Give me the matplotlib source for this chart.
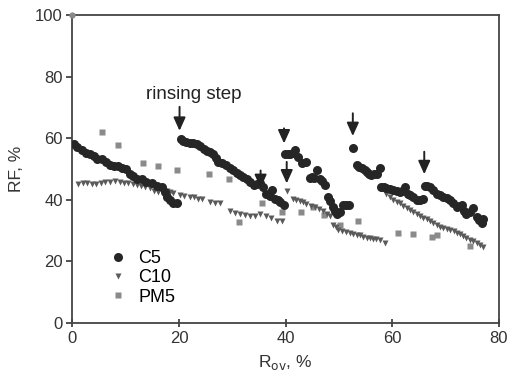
import matplotlib
matplotlib.use("Agg")
import matplotlib.pyplot as plt

plt.rcParams['font.family'] = ['Liberation Sans', 'DejaVu Sans']

# C5 (black circles)
c5_x = [0.3, 0.9, 1.8, 2.6, 3.3, 4.1, 4.7, 5.5, 6.3, 7.1, 7.8, 8.6, 9.3, 10.0, 10.8, 11.4, 12.2, 13.0, 13.9, 14.9, 15.8, 16.8, 17.4, 17.7, 18.3, 18.9, 19.6,
        20.3, 20.8, 21.4, 22.0, 22.7, 23.3, 24.0, 24.6, 25.2, 25.8, 26.4, 27.0, 27.4, 28.0, 28.9, 29.5, 30.2, 30.8, 31.4, 32.0, 32.7, 33.3, 34.0, 34.6, 35.2, 35.8, 36.4, 37.0, 37.4, 38.0, 38.5, 38.9, 39.6,
        39.9, 40.4, 40.8, 41.3, 41.8, 42.3, 43.0, 43.9, 44.5, 44.9, 45.4, 45.8, 46.4, 46.9, 47.4, 48.0, 48.4, 48.9, 49.3, 49.6, 50.2, 50.8, 51.3, 51.8,
        52.7, 53.3, 53.8, 54.3, 54.8, 55.2, 55.7, 56.1, 56.6, 57.1, 57.7,
        57.9, 58.4, 58.9, 59.5, 60.2, 60.8, 61.4, 61.9, 62.4, 62.9, 63.3, 63.9, 64.6, 65.2, 65.8,
        66.1, 66.6, 67.1, 67.7, 68.3, 68.9, 69.6, 70.2, 70.8, 71.4, 72.1, 72.6, 73.0, 73.5, 73.9, 74.5, 75.2, 75.8, 76.3, 76.8, 77.1]
c5_y = [58.0, 57.2, 56.1, 55.3, 55.0, 54.2, 53.4, 53.1, 52.3, 51.2, 51.0, 51.0, 50.2, 50.0, 48.3, 47.8, 46.9, 46.6, 45.8, 45.3, 44.5, 44.0, 42.6, 41.0, 39.9, 39.1, 39.1,
        59.8, 59.2, 58.8, 58.6, 58.6, 58.0, 57.6, 56.6, 56.0, 55.6, 55.0, 53.6, 52.3, 51.8, 51.2, 50.2, 49.6, 48.6, 48.0, 47.5, 46.9, 45.8, 44.7, 45.0, 45.3, 44.2, 42.0, 41.2, 43.3, 40.4, 39.8, 39.3, 38.2,
        55.0, 55.0, 55.0, 55.2, 56.1, 54.0, 51.8, 52.3, 47.2, 47.5, 47.2, 49.6, 46.9, 46.0, 44.7, 41.0, 39.5, 37.7, 36.5, 35.5, 36.0, 38.2, 38.2, 38.2,
        56.9, 51.2, 50.6, 50.2, 49.6, 49.1, 48.5, 48.0, 48.3, 48.5, 50.2,
        44.2, 44.0, 43.7, 43.5, 43.1, 43.0, 42.6, 43.0, 44.2, 42.0, 41.5, 40.8, 39.9, 40.0, 40.2,
        44.5, 44.4, 44.2, 43.2, 42.0, 41.5, 41.0, 40.5, 39.9, 39.0, 37.7, 38.0, 38.2, 36.5, 35.5, 36.0, 37.2, 34.5, 33.5, 32.5, 33.9]

# C10 (dark grey triangles)
c10_x = [1.1, 2.0, 2.7, 3.6, 4.5, 5.3, 6.2, 7.1, 8.0, 8.9, 9.7, 10.5, 11.3, 12.1, 12.9, 13.6, 14.6, 15.4, 16.1, 16.9, 17.7, 18.3, 18.9, 20.2, 21.0, 22.0, 22.8, 23.6, 24.4, 25.8, 26.8, 27.7, 29.6, 30.5, 31.4, 32.3, 33.3, 34.2, 35.2, 36.4, 37.3, 38.3, 39.4,
         40.2, 41.4, 42.0, 42.7, 43.3, 43.9, 44.7, 45.5, 46.3, 47.1, 47.7, 48.3, 48.9, 49.4, 49.9, 50.6, 51.4, 52.0, 52.7, 53.3, 53.9, 54.5, 55.2, 55.8, 56.4, 57.0, 57.7, 58.6,
         58.9, 59.5, 60.2, 60.8, 61.4, 62.0, 62.7, 63.3, 63.9, 64.6, 65.2, 65.8, 66.5, 67.1, 67.7, 68.3, 68.9, 69.6, 70.2, 70.8, 71.5, 72.1, 72.7, 73.3, 73.9, 74.6, 75.2, 75.8, 76.5, 77.1]
c10_y = [45.0, 45.5, 45.5, 45.0, 45.2, 45.5, 45.8, 45.8, 46.0, 45.8, 45.6, 45.5, 45.0, 44.7, 44.4, 44.2, 43.7, 43.0, 42.6, 43.0, 42.9, 42.6, 42.3, 41.5, 41.2, 41.0, 40.8, 40.4, 40.1, 39.2, 39.0, 39.0, 36.4, 35.8, 35.5, 35.0, 34.7, 34.8, 35.5, 34.7, 34.0, 33.2, 33.2,
         42.8, 40.4, 40.0, 39.7, 39.2, 38.6, 38.0, 37.5, 37.0, 36.4, 35.5, 34.7, 31.7, 31.0, 30.3, 30.0, 29.6, 29.3, 29.0, 28.7, 28.4, 28.0, 27.7, 27.5, 27.3, 27.1, 26.9, 26.1,
         42.0, 41.0, 39.9, 39.3, 38.8, 38.0, 37.3, 36.6, 36.0, 35.3, 34.7, 34.2, 33.7, 33.2, 32.5, 31.8, 31.2, 30.8, 30.4, 30.1, 29.7, 29.3, 29.0, 28.3, 27.7, 27.0, 26.5, 26.0, 25.2, 24.5]

# PM5 (light grey squares)
pm5_x = [5.5, 8.6, 13.3, 16.1, 19.7, 25.6, 29.4, 31.3, 35.5, 39.4, 42.8, 45.2, 47.2, 50.2, 53.6, 61.0, 63.9, 67.4, 68.3, 74.6]
pm5_y = [61.9, 57.7, 51.8, 51.0, 49.8, 48.5, 46.7, 32.9, 39.1, 36.1, 36.1, 37.5, 35.0, 31.7, 33.0, 29.3, 28.8, 28.0, 28.4, 24.9]

# Rinsing-step arrows: x, tail y, tip y
arrow_x = [20.1, 39.7, 40.2, 52.6, 66.0, 35.3]
arrow_tail = [70.2, 63.2, 52.3, 68.1, 55.6, 49.5]
arrow_tip = [62.4, 58.3, 45.3, 60.7, 48.3, 43.8]

fig = plt.figure(figsize=(5.17, 3.88), dpi=100)
ax = fig.add_axes([0.14, 0.168, 0.825, 0.793])

ax.plot([0], [100], 'o', color='#888888', ms=4.5, mec='none', clip_on=False, zorder=10)
ax.plot(pm5_x, pm5_y, 's', color='#8a8a8a', ms=5, mec='none', label='PM5', zorder=2)
ax.plot(c10_x, c10_y, 'v', color='#5a5a5a', ms=5, mec='none', label='C10', zorder=3)
ax.plot(c5_x, c5_y, 'o', color='#262626', ms=6.5, mec='none', label='C5', zorder=4)

for x, yt, yh in zip(arrow_x, arrow_tail, arrow_tip):
    ax.annotate('', xy=(x, yh), xytext=(x, yt),
                arrowprops=dict(arrowstyle='-|>,head_width=0.36,head_length=0.8',
                                lw=1.4, color='#222222', mutation_scale=10,
                                shrinkA=0, shrinkB=0), zorder=6)

ax.text(22.8, 74.3, 'rinsing step', fontsize=13.5, ha='center', va='center', color='#222222')

ax.set_xlim(0, 80)
ax.set_ylim(0, 100)
ax.set_xticks([0, 20, 40, 60, 80])
ax.set_yticks([0, 20, 40, 60, 80, 100])
ax.tick_params(direction='out', length=4, width=1.2, labelsize=12, colors='#333333',
               top=False, right=False, pad=3)
ax.tick_params(axis='x', direction='inout', length=6)
for s in ax.spines.values():
    s.set_color('#444444')
    s.set_linewidth(1.3)

ax.set_xlabel(r'R$_{\mathrm{ov}}$, %', fontsize=12.5, color='#333333', labelpad=5)
ax.set_ylabel('RF, %', fontsize=12.5, color='#333333', labelpad=8)

h, l = ax.get_legend_handles_labels()
order = [2, 1, 0]
ax.legend([h[i] for i in order], [l[i] for i in order], loc='upper left',
          bbox_to_anchor=(0.065, 0.265), frameon=False, fontsize=13,
          handlelength=1.0, handletextpad=0.6, labelspacing=0.12, borderpad=0)

fig.savefig('out.png', dpi=100)
